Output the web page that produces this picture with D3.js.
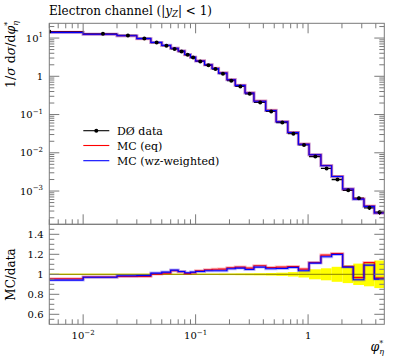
<!DOCTYPE html>
<html><head><meta charset="utf-8">
<script src="https://cdn.jsdelivr.net/npm/d3@7"></script>
<style>
html,body{margin:0;padding:0;background:#fff;}
svg{display:block;font-family:"DejaVu Serif","Liberation Serif",serif;}
</style></head>
<body><svg id="c" width="397" height="358"></svg>
<script>
// ---- data ----
const binLow  = [0, 0.01, 0.02, 0.03, 0.04, 0.05, 0.06, 0.07, 0.08, 0.09, 0.10, 0.12, 0.14, 0.16, 0.19, 0.225, 0.275, 0.33, 0.42, 0.52, 0.66, 0.82, 1.02, 1.3, 1.62, 2.03, 2.52, 3.14, 3.88];
const binHigh = [0.01, 0.02, 0.03, 0.04, 0.05, 0.06, 0.07, 0.08, 0.09, 0.10, 0.12, 0.14, 0.16, 0.19, 0.225, 0.275, 0.33, 0.42, 0.52, 0.66, 0.82, 1.02, 1.3, 1.62, 2.03, 2.52, 3.14, 3.88, 4.76];
const dataY = [14.8, 12.9, 11.7, 9.8, 7.6, 6.3, 5.2, 4.45, 3.65, 3.1, 2.45, 1.93, 1.55, 1.17, 0.77, 0.545, 0.35, 0.208, 0.121, 0.0615, 0.0317, 0.0161, 0.0080, 0.0039, 0.0020, 0.00105, 0.00065, 0.000363, 0.000279];
const dataRelErr = [0.006, 0.006, 0.006, 0.006, 0.006, 0.006, 0.006, 0.006, 0.006, 0.006, 0.007, 0.007, 0.007, 0.008, 0.008, 0.009, 0.01, 0.011, 0.013, 0.016, 0.022, 0.032, 0.05, 0.06, 0.075, 0.088, 0.107, 0.12, 0.138];
const ratioEq = [0.955, 0.973, 0.978, 0.978, 1.002, 1.012, 1.035, 1.025, 1.008, 1.015, 1.035, 1.045, 1.05, 1.052, 1.065, 1.072, 1.062, 1.085, 1.068, 1.072, 1.078, 1.052, 1.118, 1.192, 1.208, 1.078, 0.968, 1.118, 0.962];
const ratioWz = [0.942, 0.970, 0.985, 0.988, 1.012, 1.022, 1.042, 1.028, 1.015, 1.022, 1.028, 1.035, 1.035, 1.035, 1.055, 1.062, 1.048, 1.072, 1.055, 1.058, 1.068, 1.035, 1.112, 1.175, 1.198, 1.072, 0.945, 1.092, 0.952];
const xDomain = [0.005, 4.76];
const yMainDomain = [1.35e-4, 24.3];
const yRatioDomain = [0.5, 1.5];
const yMainMajor = [10, 1, 0.1, 0.01, 0.001];
const yMainMajorLabels = [["10","1"],["1",""],["10","−1"],["10","−2"],["10","−3"]];
const xMajor = [0.01, 0.1, 1];
const xMajorLabels = [["10","−2"],["10","−1"],["1",""]];
const ratioMajor = [0.6, 0.8, 1.0, 1.2, 1.4];
const ratioMajorLabels = ["0.6","0.8","1","1.2","1.4"];
const legendNames = ["DØ data", "MC (eq)", "MC (wz-weighted)"];
const title = "Electron channel (";

// ---- layout ----
const L = 49.3, R = 384.3, T = 23.3, MB = 224.3, RB = 324.3;
const svg = d3.select("#c");
const x = d3.scaleLog().domain(xDomain).range([L, R]);
const y = d3.scaleLog().domain(yMainDomain).range([MB, T]);
const yr = d3.scaleLinear().domain(yRatioDomain).range([RB, MB]);
const frameCol = "#7a7a7a";
const cx = v => x(Math.max(v, xDomain[0]));

const bins = binLow.map((lo, i) => ({lo, hi: binHigh[i], mid: i === 0 ? xDomain[0] : (lo + binHigh[i]) / 2,
  d: dataY[i], e: dataRelErr[i], req: ratioEq[i], rwz: ratioWz[i]}));

const defs = svg.append("defs");
defs.append("clipPath").attr("id","cm").append("rect").attr("x",L).attr("y",T).attr("width",R-L).attr("height",MB-T);
defs.append("clipPath").attr("id","cr").append("rect").attr("x",L).attr("y",MB).attr("width",R-L).attr("height",RB-MB);

function stepPath(vals, ys) {
  let p = "";
  bins.forEach((b, i) => {
    const x0 = cx(b.lo), x1 = cx(b.hi), yy = ys(vals[i]);
    p += (i === 0 ? "M" : "L") + x0 + "," + yy + "L" + x1 + "," + yy;
  });
  return p;
}
const mcStyles = [{vals: ratioEq, col: "#ff0000", halo: "rgba(255,0,0,0.28)"}, {vals: ratioWz, col: "#0000ff", halo: "rgba(0,0,255,0.28)"}];

// ---- ratio panel ----
const gr = svg.append("g").attr("clip-path","url(#cr)");
gr.selectAll("rect.band").data(bins).enter().append("rect")
  .attr("x", b => cx(b.lo)).attr("width", b => cx(b.hi) - cx(b.lo))
  .attr("y", b => yr(1 + b.e)).attr("height", b => yr(1 - b.e) - yr(1 + b.e))
  .attr("fill", "#ffff00");
gr.append("line").attr("x1", L).attr("x2", R).attr("y1", yr(1)).attr("y2", yr(1))
  .attr("stroke", "#a09a00").attr("stroke-width", 1.3);
mcStyles.forEach(s => {
  gr.append("path").attr("d", stepPath(s.vals, yr)).attr("fill","none").attr("stroke", s.halo).attr("stroke-width", 3);
  gr.append("path").attr("d", stepPath(s.vals, yr)).attr("fill","none").attr("stroke", s.col).attr("stroke-width", 1.1);
});

// ---- main panel ----
const gm = svg.append("g").attr("clip-path","url(#cm)");
const mcMain = mcStyles.map(s => s.vals.map((r, i) => r * dataY[i]));
// data
gm.selectAll("line.xe").data(bins).enter().append("line")
  .attr("x1", b => cx(b.lo)).attr("x2", b => cx(b.hi)).attr("y1", b => y(b.d)).attr("y2", b => y(b.d))
  .attr("stroke","#000").attr("stroke-width",1.3);
gm.selectAll("line.ye").data(bins).enter().append("line")
  .attr("x1", b => x(b.mid)).attr("x2", b => x(b.mid)).attr("y1", b => y(b.d*(1+b.e))).attr("y2", b => y(b.d*(1-b.e)))
  .attr("stroke","#000").attr("stroke-width",1.2);
mcStyles.forEach((s, k) => {
  gm.append("path").attr("d", stepPath(mcMain[k], y)).attr("fill","none").attr("stroke", s.halo).attr("stroke-width", 3);
  gm.append("path").attr("d", stepPath(mcMain[k], y)).attr("fill","none").attr("stroke", s.col).attr("stroke-width", 1.1);
});
gm.selectAll("circle").data(bins).enter().append("circle")
  .attr("cx", b => x(b.mid)).attr("cy", b => y(b.d)).attr("r", 2).attr("fill","#000");

// ---- frames & ticks ----
const ga = svg.append("g").attr("stroke", frameCol).attr("stroke-width", 1).attr("fill","none");
ga.append("rect").attr("x",L).attr("y",T).attr("width",R-L).attr("height",MB-T);
ga.append("rect").attr("x",L).attr("y",MB).attr("width",R-L).attr("height",RB-MB);
const xt = x.ticks();
const isMajor = v => Math.abs(Math.log10(v) - Math.round(Math.log10(v))) < 1e-6;
xt.forEach(v => {
  const len = isMajor(v) ? 10 : 5, px = x(v);
  ga.append("line").attr("x1",px).attr("x2",px).attr("y1",T).attr("y2",T+len);
  ga.append("line").attr("x1",px).attr("x2",px).attr("y1",MB).attr("y2",MB-len);
  ga.append("line").attr("x1",px).attr("x2",px).attr("y1",RB).attr("y2",RB-len);
});
const ytk = y.ticks();
ytk.forEach(v => {
  const len = isMajor(v) ? 10 : 5, py = y(v);
  ga.append("line").attr("x1",L).attr("x2",L+len).attr("y1",py).attr("y2",py);
  ga.append("line").attr("x1",R).attr("x2",R-len).attr("y1",py).attr("y2",py);
});
d3.range(0.55, 1.5, 0.05).forEach(v => {
  const maj = ratioMajor.some(m => Math.abs(m - v) < 1e-6);
  const len = maj ? 10 : 5, py = yr(v);
  ga.append("line").attr("x1",L).attr("x2",L+len).attr("y1",py).attr("y2",py);
  ga.append("line").attr("x1",R).attr("x2",R-len).attr("y1",py).attr("y2",py);
});

// ---- labels ----
const gt = svg.append("g").attr("fill","#000");
function supText(g, px, py, base, sup, anchor, fs) {
  const t = g.append("text").attr("x",px).attr("y",py).attr("text-anchor",anchor).attr("font-size",fs);
  t.append("tspan").text(base);
  if (sup) t.append("tspan").attr("dy",-4.5).attr("font-size",fs*0.7).text(sup);
  return t;
}
yMainMajor.forEach((v, i) => supText(gt, 43, y(v) + 3.5, yMainMajorLabels[i][0], yMainMajorLabels[i][1], "end", 10));
xMajor.forEach((v, i) => supText(gt, x(v), 339, xMajorLabels[i][0], xMajorLabels[i][1], "middle", 10));
ratioMajor.forEach((v, i) => gt.append("text").attr("x",43.5).attr("y",yr(v)+3.5).attr("text-anchor","end").attr("font-size",10).text(ratioMajorLabels[i]));

// title
const tt = gt.append("text").attr("x",49).attr("y",14.5).attr("font-size",12);
tt.append("tspan").text(title + "|");
tt.append("tspan").attr("font-style","italic").text("y");
tt.append("tspan").attr("font-size",8.5).attr("dy",2).attr("font-style","italic").text("Z");
tt.append("tspan").attr("dy",-2).text("| < 1)");

// y labels
const yl = gt.append("text").attr("transform","translate(15,21) rotate(-90)").attr("text-anchor","end").attr("font-size",12.5);
yl.append("tspan").text("1/");
yl.append("tspan").attr("font-style","italic").text("σ");
yl.append("tspan").text(" d");
yl.append("tspan").attr("font-style","italic").text("σ");
yl.append("tspan").text("/d");
yl.append("tspan").attr("font-style","italic").text("φ");
yl.append("tspan").attr("font-size",8).attr("dy",-5).text("*");
yl.append("tspan").attr("font-size",8).attr("dx",-4).attr("dy",8).attr("font-style","italic").text("η");
gt.append("text").attr("transform","translate(15,274.5) rotate(-90)").attr("text-anchor","middle").attr("font-size",12).text("MC/data");

// x label
const xl = gt.append("text").attr("x",384).attr("y",351).attr("text-anchor","end").attr("font-size",12.5);
xl.append("tspan").attr("font-style","italic").text("φ");
xl.append("tspan").attr("font-size",8).attr("dy",-5).text("*");
xl.append("tspan").attr("font-size",8).attr("dx",-4).attr("dy",8).attr("font-style","italic").text("η");

// legend
const legY = [130.7, 145.5, 160.7];
const legCols = ["#000", "#ff0000", "#0000ff"];
legendNames.forEach((n, i) => {
  svg.append("line").attr("x1",83.3).attr("x2",109.3).attr("y1",legY[i]).attr("y2",legY[i]).attr("stroke",legCols[i]).attr("stroke-width",1.1);
  if (i === 0) svg.append("circle").attr("cx",96.3).attr("cy",legY[i]).attr("r",2).attr("fill","#000");
  svg.append("text").attr("x",117).attr("y",legY[i]+4).attr("font-size",11).text(n);
});
</script></body></html>
